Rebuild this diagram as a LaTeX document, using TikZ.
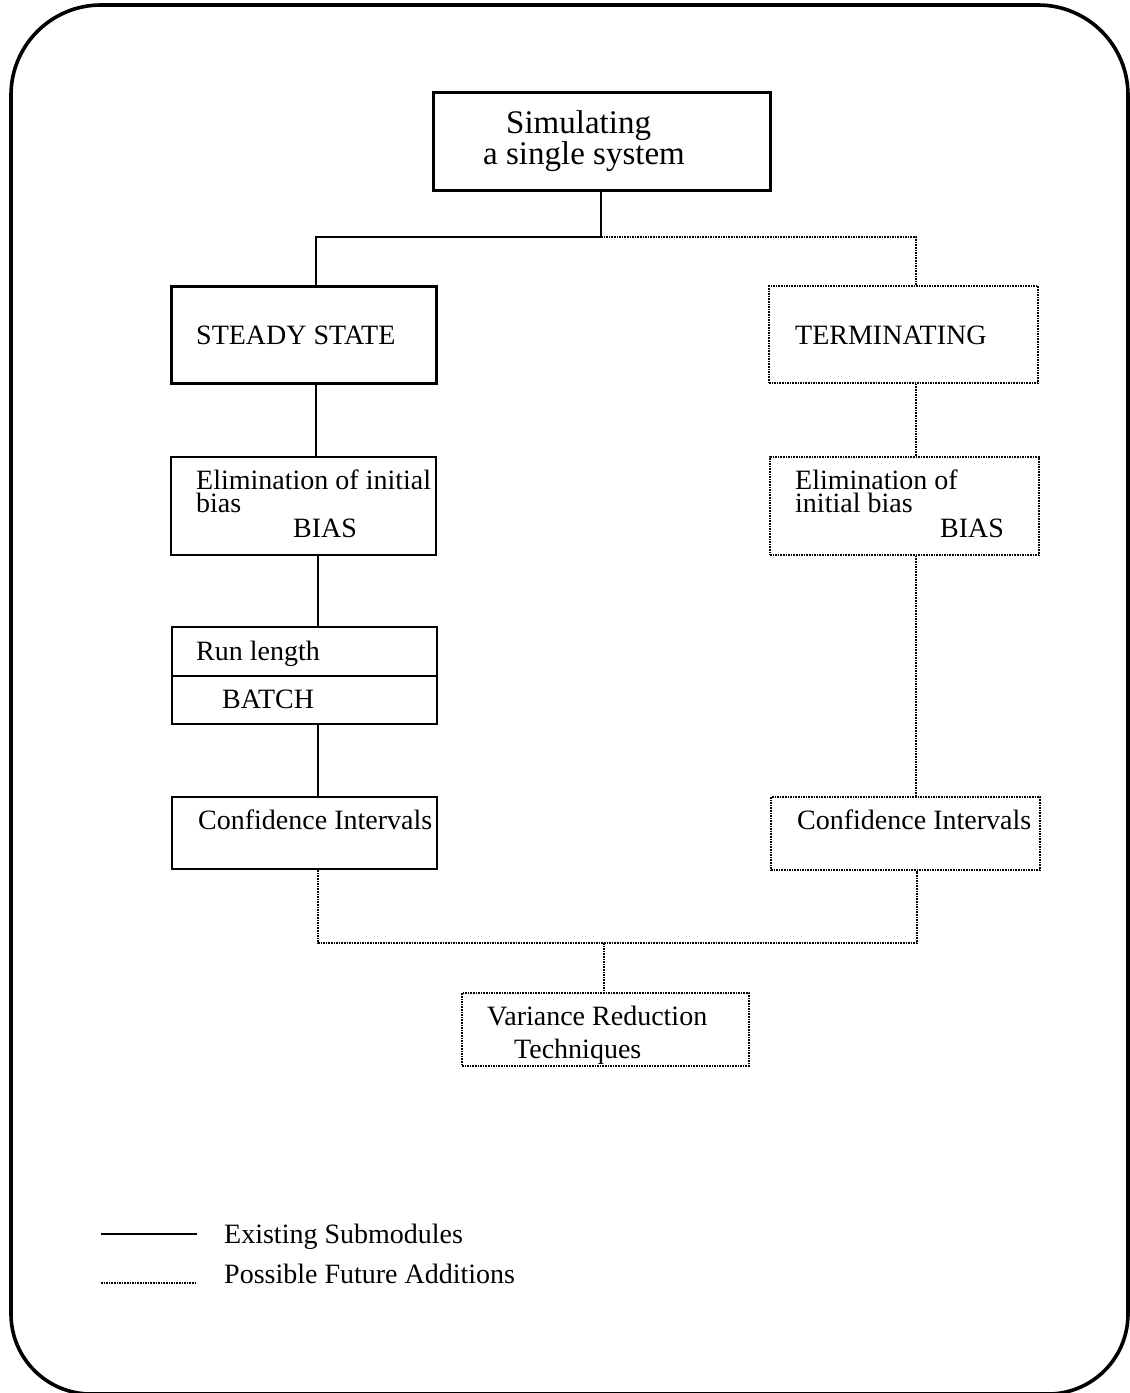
\documentclass[tikz,border=0pt]{standalone}
\usepackage{fontspec}
\setmainfont{Liberation Serif}
\begin{document}
\begin{tikzpicture}[x=1pt,y=-1pt,
  boxline/.style={draw, rectangle, inner sep=0pt},
  heavybox/.style={boxline, line width=3pt},
  solidbox/.style={boxline, line width=2.2pt},
  dotbox/.style={boxline, line width=1.5pt, dash pattern=on 1.6pt off 1pt},
  wire/.style={line width=1.7pt},
  dotwire/.style={line width=1.5pt, dash pattern=on 1.6pt off 1pt},
  lbl/.style={anchor=base west, inner sep=0pt, font=\fontsize{28}{28}\selectfont},
  biglbl/.style={anchor=base west, inner sep=0pt, font=\fontsize{33}{33}\selectfont},
  frame/.style={line width=3.6pt}
]
\useasboundingbox (0,0) rectangle (1130,1393);

% outer rounded frame
\draw[frame, rounded corners=90] (11,700) -- (11,5) -- (1128,5) -- (1128,700);
\draw[frame, rounded corners=80] (11,700) -- (11,1394) -- (1128,1394) -- (1128,700);

% boxes
\node[heavybox, minimum width=337pt, minimum height=98pt] (sim)   at (601.5,141) {};
\node[heavybox, minimum width=265pt, minimum height=97pt] (ss)    at (303.5,334.5) {};
\node[dotbox,   minimum width=269pt, minimum height=97pt] (term)  at (903.5,334.5) {};
\node[solidbox, minimum width=265pt, minimum height=98pt] (elimL) at (303.5,506) {};
\node[dotbox,   minimum width=269pt, minimum height=98pt] (elimR) at (904.5,506) {};
\node[solidbox, minimum width=265pt, minimum height=97pt] (run)   at (304.5,675.5) {};
\node[solidbox, minimum width=265pt, minimum height=72pt] (confL) at (304.5,833) {};
\node[dotbox,   minimum width=269pt, minimum height=73pt] (confR) at (905.5,833.5) {};
\node[dotbox,   minimum width=287pt, minimum height=73pt] (var)   at (605.5,1029.5) {};

% divider inside the run length box
\coordinate (runmid) at (0,676);
\draw[wire] (run.west |- runmid) -- (run.east |- runmid);

% texts
\node[biglbl] (simA) at (506,133) {Simulating};
\node[biglbl] (simB) at (483,164) {a single system};
\node[lbl] (ssT)   at (196,344) {STEADY STATE};
\node[lbl] (termT) at (795,344) {TERMINATING};
\node[lbl] (eLa) at (196,489) {Elimination of initial};
\node[lbl] (eLb) at (196,512) {bias};
\node[lbl] (eLc) at (293,537) {BIAS};
\node[lbl] (eRa) at (795,489) {Elimination of};
\node[lbl] (eRb) at (795,512) {initial bias};
\node[lbl] (eRc) at (940,537) {BIAS};
\node[lbl] (runA) at (196,660) {Run length};
\node[lbl] (runB) at (222,708) {BATCH};
\node[lbl] (cLT) at (198,829) {Confidence Intervals};
\node[lbl] (cRT) at (797,829) {Confidence Intervals};
\node[lbl] (vA) at (487,1025) {Variance Reduction};
\node[lbl] (vB) at (514,1058) {Techniques};

% junction points
\coordinate (jT) at (601,237);
\coordinate (jL) at (316,237);
\coordinate (jR) at (916,237);
\coordinate (cL) at (316,0);
\coordinate (cL2) at (318,0);
\coordinate (cR) at (916,0);
\coordinate (bL) at (318,943);
\coordinate (bR) at (917,943);
\coordinate (bM) at (604,943);

% connectors
\draw[wire] (sim.south -| jT) -- (jT) -- (jL) -- (ss.north -| jL);
\draw[dotwire] (jT) -- (jR) -- (term.north -| jR);
\draw[wire] (ss.south -| cL) -- (elimL.north -| cL);
\draw[wire] (elimL.south -| cL2) -- (run.north -| cL2);
\draw[wire] (run.south -| cL2) -- (confL.north -| cL2);
\draw[dotwire] (term.south -| cR) -- (elimR.north -| cR);
\draw[dotwire] (elimR.south -| cR) -- (confR.north -| cR);
\draw[dotwire] (confL.south -| bL) -- (bL) -- (bR) -- (confR.south -| bR);
\draw[dotwire] (bM) -- (var.north -| bM);

% legend
\coordinate (lgA1) at (101,1234);
\coordinate (lgA2) at (197,1234);
\coordinate (lgB1) at (101,1283);
\coordinate (lgB2) at (197,1283);
\draw[wire] (lgA1) -- (lgA2);
\draw[dotwire] (lgB1) -- (lgB2);
\node[lbl] (lgAT) at (224,1243) {Existing Submodules};
\node[lbl] (lgBT) at (224,1283) {Possible Future Additions};
\end{tikzpicture}
\end{document}
